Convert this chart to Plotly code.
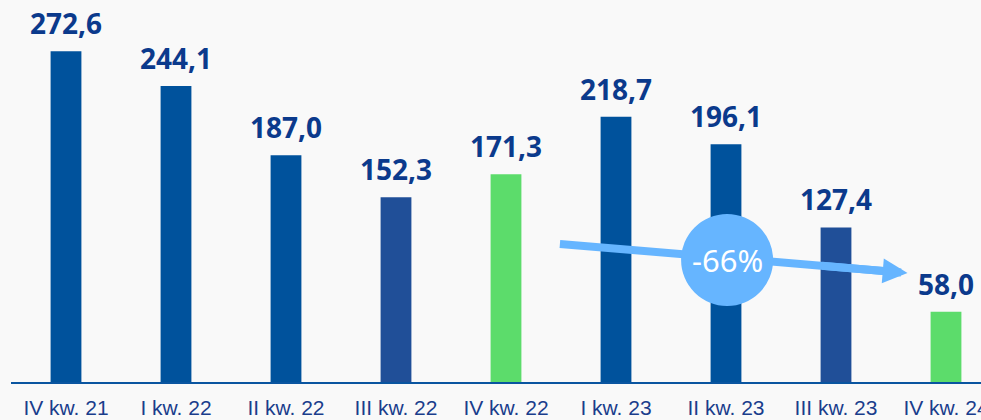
import plotly.graph_objects as go

categories = ["IV kw. 21", "I kw. 22", "II kw. 22", "III kw. 22", "IV kw. 22",
              "I kw. 23", "II kw. 23", "III kw. 23", "IV kw. 24"]
values = [272.6, 244.1, 187.0, 152.3, 171.3, 218.7, 196.1, 127.4, 58.0]
labels = ["272,6", "244,1", "187,0", "152,3", "171,3", "218,7", "196,1", "127,4", "58,0"]
bar_colors = ["#00529c", "#00529c", "#00529c", "#204f98", "#5cdc6b",
              "#00529c", "#00529c", "#204f98", "#5cdc6b"]

change_text = "-66%"
arrow_from = (4.49, 113.8)
arrow_to = (7.65, 89.9)
badge_center = (6.01, 100.6)

xs = list(range(len(categories)))

fig = go.Figure()
fig.add_trace(go.Bar(x=xs, y=values, marker=dict(color=bar_colors, line=dict(width=0)),
                     width=0.28, hoverinfo="skip"))

# arrow shaft (below the badge)
t_end = 0.93
shaft_end = (arrow_from[0] + (arrow_to[0] - arrow_from[0]) * t_end,
             arrow_from[1] + (arrow_to[1] - arrow_from[1]) * t_end)
fig.add_trace(go.Scatter(x=[arrow_from[0], shaft_end[0]], y=[arrow_from[1], shaft_end[1]],
                         mode="lines", line=dict(color="#66b5ff", width=8), hoverinfo="skip"))

annotations = []
for x, v, lab in zip(xs, values, labels):
    annotations.append(dict(x=x, y=v, text=lab, showarrow=False, yanchor="middle", yshift=28,
                            font=dict(family="Noto Sans", size=28, color="#0b3a8c", weight="bold")))

# arrow head
t_tail = 0.75
tail = (arrow_from[0] + (arrow_to[0] - arrow_from[0]) * t_tail,
        arrow_from[1] + (arrow_to[1] - arrow_from[1]) * t_tail)
annotations.append(dict(x=arrow_to[0], y=arrow_to[1], ax=tail[0], ay=tail[1],
                        xref="x", yref="y", axref="x", ayref="y", text="",
                        showarrow=True, arrowhead=2, arrowsize=0.62, arrowwidth=8,
                        arrowcolor="#66b5ff", standoff=0))
annotations.append(dict(x=badge_center[0], y=badge_center[1], text=change_text, showarrow=False,
                        font=dict(family="Noto Sans", size=31, color="white")))

fig.update_layout(
    width=981, height=420,
    margin=dict(l=11, r=0, t=0, b=38),
    paper_bgcolor="#f9f9f9", plot_bgcolor="#f9f9f9",
    showlegend=False,
    annotations=annotations,
    shapes=[dict(type="circle", xref="x", yref="y", xsizemode="pixel", ysizemode="pixel",
                 xanchor=badge_center[0], yanchor=badge_center[1],
                 x0=-46, x1=46, y0=-46, y1=46, fillcolor="#66b5ff",
                 line=dict(width=0), layer="above")],
    xaxis=dict(range=[-0.5, -0.5 + 970 / 110], tickvals=xs, ticktext=categories,
               showgrid=False, zeroline=False, showline=True, linecolor="#0a55a0", linewidth=2,
               ticks="", automargin=False, ticklabelstandoff=6, ticklabeloverflow="allow",
               tickfont=dict(family="Liberation Sans", size=21, color="#1a3d8c")),
    yaxis=dict(range=[0, 382 / 1.213], visible=False, showgrid=False, zeroline=False),
)

fig.write_html("out.html", config={"displayModeBar": False},
               post_script="document.body.style.margin='0';document.body.style.overflow='hidden';"
                           "document.body.style.background='#f9f9f9';")
